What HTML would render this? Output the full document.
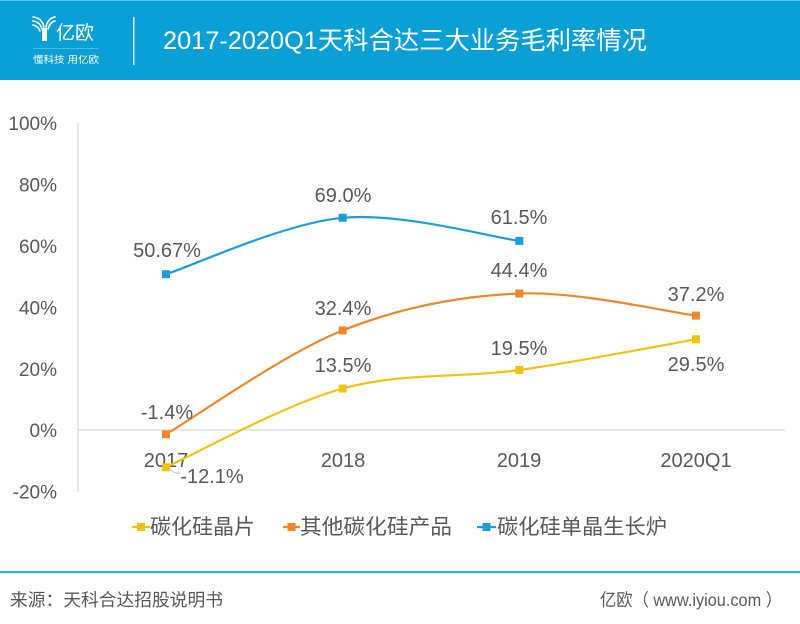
<!DOCTYPE html>
<html>
<head>
<meta charset="utf-8">
<style>
html,body{margin:0;padding:0;background:#fff;}
svg{display:block;}
text{font-family:"Liberation Sans","Noto Sans CJK SC",sans-serif;}
</style>
</head>
<body>
<svg width="800" height="624" viewBox="0 0 800 624" xmlns="http://www.w3.org/2000/svg">
  <!-- header -->
  <rect x="0" y="0" width="800" height="80" fill="#0aa0d6"/>
  <rect x="0" y="0" width="800" height="1" fill="#5cc0e6"/>
  <!-- logo icon -->
  <g fill="none" stroke="#fff" stroke-linecap="round">
    <path d="M33 17 Q42 18 44 27" stroke-width="1.6"/>
    <path d="M33 21 Q40 22 42 29" stroke-width="1.6"/>
    <path d="M33 25 Q38 26 40 31" stroke-width="1.6"/>
    <path d="M55 17 Q48 18 46 27" stroke-width="1.6"/>
    <path d="M55 21 Q50 22 48 29" stroke-width="1.6"/>
  </g>
  <rect x="42" y="28" width="5" height="13" fill="#fff"/>
  <text x="56" y="39" font-size="19" fill="#fff">亿欧</text>
  <rect x="33" y="48" width="66" height="0.8" fill="#5cc0e6"/>
  <text x="33" y="63" font-size="9.5" fill="#fff" textLength="66" lengthAdjust="spacingAndGlyphs">懂科技 用亿欧</text>
  <rect x="133" y="17" width="1.5" height="48" fill="#d8f0fa"/>
  <text x="163" y="49" font-size="25" fill="#fff" textLength="484" lengthAdjust="spacingAndGlyphs">2017-2020Q1天科合达三大业务毛利率情况</text>

  <!-- axes -->
  <line x1="78" y1="123" x2="78" y2="492" stroke="#d9d9d9" stroke-width="1.2"/>
  <line x1="78" y1="430" x2="785" y2="430" stroke="#d9d9d9" stroke-width="1.2"/>

  <!-- y tick labels -->
  <g font-size="19" fill="#595959" text-anchor="end">
    <text x="57" y="130">100%</text>
    <text x="57" y="191.5">80%</text>
    <text x="57" y="253">60%</text>
    <text x="57" y="314.5">40%</text>
    <text x="57" y="376">20%</text>
    <text x="57" y="437">0%</text>
    <text x="57" y="498.5">-20%</text>
  </g>

  <!-- x labels -->
  <g font-size="20" fill="#595959" text-anchor="middle">
    <text x="166" y="467">2017</text>
    <text x="343" y="467">2018</text>
    <text x="519" y="467">2019</text>
    <text x="696" y="467">2020Q1</text>
  </g>

  <!-- series: yellow -->
  <path d="M166 467.2 C195.45 454.08 283.82 404.7 342.7 388.5 C401.58 372.3 460.42 378.2 519.3 370 C578.18 361.8 666.55 344.42 696 339.3" fill="none" stroke="#f2c311" stroke-width="2.2"/>
  <!-- series: orange -->
  <path d="M166 434.3 C195.45 416.98 283.82 353.87 342.7 330.4 C401.58 306.93 460.42 295.97 519.3 293.5 C578.18 291.03 666.55 311.92 696 315.6" fill="none" stroke="#f0872b" stroke-width="2.2"/>
  <!-- series: blue -->
  <path d="M166 274.2 C195.45 264.8 283.8 223.35 342.7 217.8 C401.6 212.25 489.9 237.05 519.3 240.9" fill="none" stroke="#1f9ed6" stroke-width="2.2"/>

  <!-- markers -->
  <g fill="#f2c311">
    <rect x="162" y="463.2" width="8" height="8"/>
    <rect x="338.7" y="384.5" width="8" height="8"/>
    <rect x="515.3" y="366" width="8" height="8"/>
    <rect x="692" y="335.3" width="8" height="8"/>
  </g>
  <g fill="#f0872b">
    <rect x="162" y="430.3" width="8" height="8"/>
    <rect x="338.7" y="326.4" width="8" height="8"/>
    <rect x="515.3" y="289.5" width="8" height="8"/>
    <rect x="692" y="311.6" width="8" height="8"/>
  </g>
  <g fill="#1f9ed6">
    <rect x="162" y="270.2" width="8" height="8"/>
    <rect x="338.7" y="213.8" width="8" height="8"/>
    <rect x="515.3" y="236.9" width="8" height="8"/>
  </g>

  <!-- leader line -->
  <path d="M170 469 Q174 474 181 473" fill="none" stroke="#bfbfbf" stroke-width="1"/>

  <!-- data labels -->
  <g font-size="20" fill="#595959" text-anchor="middle">
    <text x="167" y="257">50.67%</text>
    <text x="343" y="202">69.0%</text>
    <text x="519" y="224">61.5%</text>
    <text x="519" y="277">44.4%</text>
    <text x="343" y="315">32.4%</text>
    <text x="343" y="372">13.5%</text>
    <text x="519" y="355">19.5%</text>
    <text x="696" y="301">37.2%</text>
    <text x="696" y="371">29.5%</text>
    <text x="167" y="419">-1.4%</text>
    <text x="212" y="483">-12.1%</text>
  </g>

  <!-- legend -->
  <line x1="132" y1="527" x2="150" y2="527" stroke="#f2c311" stroke-width="2.2"/>
  <rect x="137" y="523" width="8" height="8" fill="#f2c311"/>
  <text x="150" y="534" font-size="21" fill="#595959" textLength="105" lengthAdjust="spacingAndGlyphs">碳化硅晶片</text>
  <line x1="283" y1="527" x2="300" y2="527" stroke="#f0872b" stroke-width="2.2"/>
  <rect x="287.5" y="523" width="8" height="8" fill="#f0872b"/>
  <text x="300" y="534" font-size="21" fill="#595959" textLength="152" lengthAdjust="spacingAndGlyphs">其他碳化硅产品</text>
  <line x1="477" y1="527" x2="496" y2="527" stroke="#1f9ed6" stroke-width="2.2"/>
  <rect x="482.5" y="523" width="8" height="8" fill="#1f9ed6"/>
  <text x="497" y="534" font-size="21" fill="#595959" textLength="170" lengthAdjust="spacingAndGlyphs">碳化硅单晶生长炉</text>

  <!-- footer -->
  <rect x="0" y="571" width="800" height="2.2" fill="#3ea6d6"/>
  <text x="10" y="606" font-size="17.5" fill="#595959" textLength="213" lengthAdjust="spacingAndGlyphs">来源：天科合达招股说明书</text>
  <text x="600" y="606" font-size="17.5" fill="#595959" textLength="182" lengthAdjust="spacingAndGlyphs">亿欧（ www.iyiou.com ）</text>
</svg>
</body>
</html>
